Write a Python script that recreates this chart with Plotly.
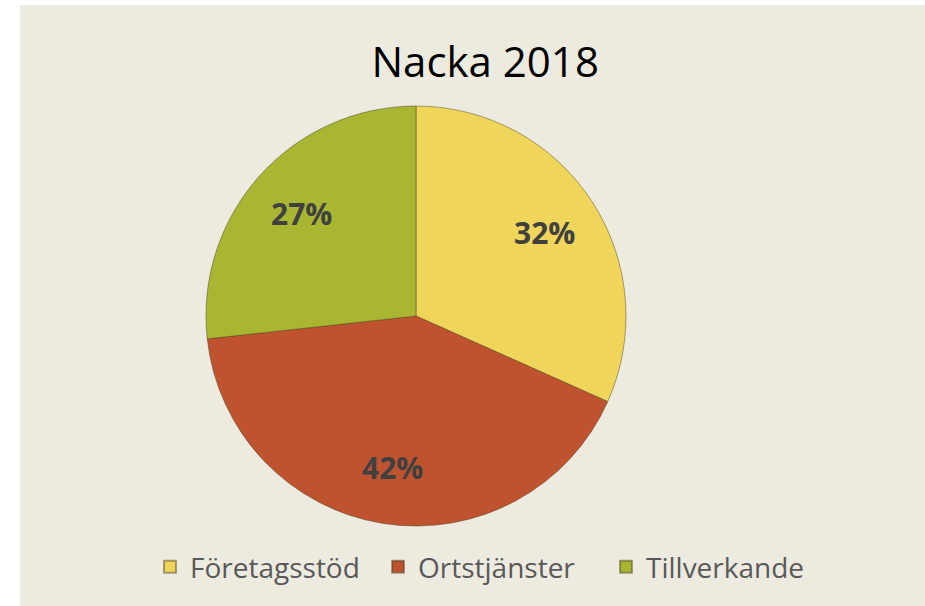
import math
import plotly.graph_objects as go

# Data
categories = ["Företagsstöd", "Ortstjänster", "Tillverkande"]
values = [32, 42, 27]
colors = ["#F0D55B", "#C0532F", "#A8B632"]
title_text = "Nacka 2018"

# Pie geometry (paper coordinates of the plotting area)
dom_x = [0.2055, 0.6696]
dom_y = [0.133, 0.832]

fig = go.Figure(
    go.Pie(
        labels=categories,
        values=values,
        sort=False,
        direction="clockwise",
        rotation=0,
        marker=dict(colors=colors, line=dict(color="rgba(70,60,20,0.45)", width=1)),
        textinfo="none",
        hoverinfo="label+percent",
        domain=dict(x=dom_x, y=dom_y),
    )
)

# Percentage labels placed at each slice's mid-angle
W, H = 925 - 20, 606 - 5
cx_px = (dom_x[0] + dom_x[1]) / 2 * W
cy_px = (dom_y[0] + dom_y[1]) / 2 * H
rad_px = min((dom_x[1] - dom_x[0]) * W, (dom_y[1] - dom_y[0]) * H) / 2
total = sum(values)
start = 0.0
for v in values:
    frac = v / total
    mid = (start + frac / 2) * 2 * math.pi
    start += frac
    r = 0.73 * rad_px
    px = cx_px + r * math.sin(mid)
    py = cy_px + r * math.cos(mid)
    fig.add_annotation(
        x=px / W, y=py / H, xref="paper", yref="paper",
        xanchor="center", yanchor="middle",
        text=f"{round(frac * 100):d}%", showarrow=False,
        font=dict(family="Open Sans", size=30, color="#404040", weight="bold"),
    )

fig.add_shape(
    type="rect", xref="paper", yref="paper", x0=0, x1=1, y0=0, y1=1,
    fillcolor="#EDEAE0", line=dict(width=0), layer="below",
)

fig.update_layout(
    width=925, height=606,
    margin=dict(l=20, r=0, t=5, b=0),
    paper_bgcolor="white",
    plot_bgcolor="#EDEAE0",
    title=dict(
        text=title_text, x=0.514, xref="paper", xanchor="center",
        y=0.898, yref="container", yanchor="middle",
        font=dict(family="Open Sans", size=42, color="#000000"),
    ),
    showlegend=True,
    legend=dict(
        orientation="h", x=(150 - 20) / W, xanchor="left", y=0.065, yanchor="middle",
        font=dict(family="Open Sans", size=28, color="#595959"),
        bgcolor="rgba(0,0,0,0)", itemsizing="constant",
        entrywidth=183, entrywidthmode="pixels",
    ),
)

fig.write_html("out.html")
